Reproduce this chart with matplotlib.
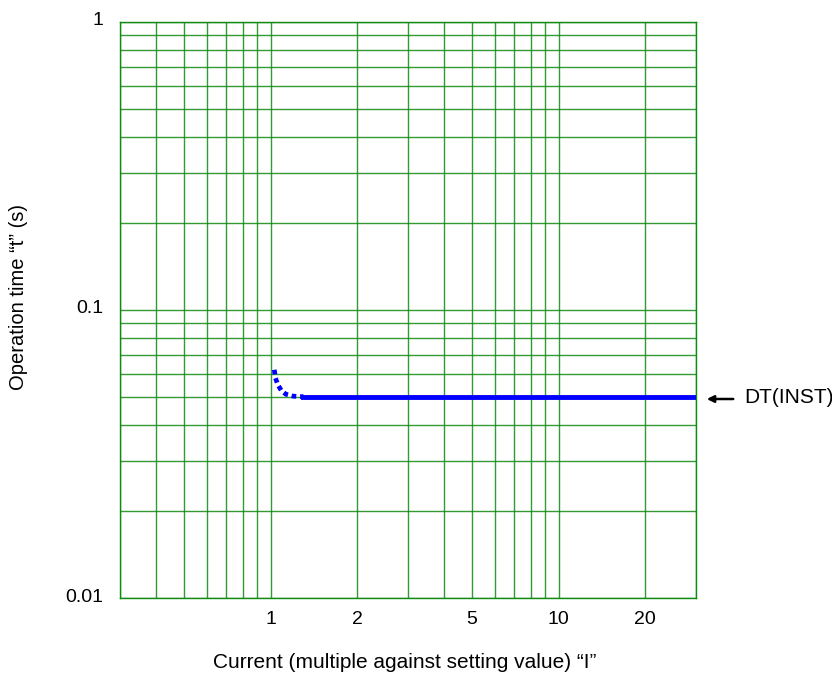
import numpy as np
import matplotlib.pyplot as plt
from matplotlib.ticker import LogLocator, NullFormatter

plt.rcParams['font.family'] = ['Liberation Sans', 'DejaVu Sans']

# dotted start of the curve (pickup region) and flat DT part
curve_i = [1.03, 1.04, 1.06, 1.09, 1.13, 1.2, 1.3]
curve_t = [0.062, 0.058, 0.055, 0.0525, 0.051, 0.0502, 0.05]
dt_i = [1.3, 30]
dt_t = [0.05, 0.05]

xticks = [1, 2, 5, 10, 20]
xtick_labels = ['1', '2', '5', '10', '20']
yticks = [0.01, 0.1, 1]
ytick_labels = ['0.01', '0.1', '1']

fig = plt.figure(figsize=(8.32, 6.75), dpi=100)
ax = fig.add_axes([120 / 832, 1 - 598 / 675, 576 / 832, 576 / 675])
ax.set_xscale('log')
ax.set_yscale('log')
ax.set_xlim(0.3, 30)
ax.set_ylim(0.01, 1)

# green grid on every 1..9 of each decade
ax.xaxis.set_major_locator(LogLocator(base=10, subs=np.arange(1, 10), numticks=20))
ax.yaxis.set_major_locator(LogLocator(base=10, subs=np.arange(1, 10), numticks=20))
ax.xaxis.set_minor_formatter(NullFormatter())
ax.yaxis.set_minor_formatter(NullFormatter())
ax.xaxis.set_major_formatter(NullFormatter())
ax.yaxis.set_major_formatter(NullFormatter())
ax.grid(True, which='major', color='#108a10', lw=1.0, alpha=0.85)
ax.tick_params(which='both', length=0)
for s in ax.spines.values():
    s.set_color('#108a10')
    s.set_linewidth(1.0)

ax.plot(curve_i, curve_t, color='#0000ff', lw=3.4, ls=(0, (1, 0.8)),
        dash_capstyle='butt', zorder=3)
ax.plot(dt_i, dt_t, '-', color='#0000ff', lw=3.5, zorder=3)

# tick labels as text so the grid stays independent
for v, l in zip(xticks, xtick_labels):
    ax.text(v, -0.038, l, transform=ax.get_xaxis_transform(), ha='center', va='center', fontsize=14)
for v, l in zip(yticks, ytick_labels):
    ax.annotate(l, (0, v), xycoords=ax.get_yaxis_transform(), xytext=(-17, 1),
                textcoords='offset pixels', ha='right', va='center', fontsize=14)

fig.text(0.5 * (212 + 597) / 832, 1 - 662 / 675,
         'Current (multiple against setting value) \u201cI\u201d', ha='center', va='center', fontsize=15)
fig.text(19 / 832, 1 - 297 / 675, 'Operation time \u201ct\u201d (s)',
         rotation=90, ha='center', va='center', fontsize=14.5)

ax.annotate('', xy=(704 / 832, 1 - 399 / 675), xytext=(736 / 832, 1 - 399 / 675),
            xycoords='figure fraction', textcoords='figure fraction',
            arrowprops=dict(arrowstyle='-|>', color='black', lw=1.8, mutation_scale=10))
fig.text(744 / 832, 1 - 397 / 675, 'DT(INST)', ha='left', va='center', fontsize=15)

fig.savefig('out.png', dpi=100)
